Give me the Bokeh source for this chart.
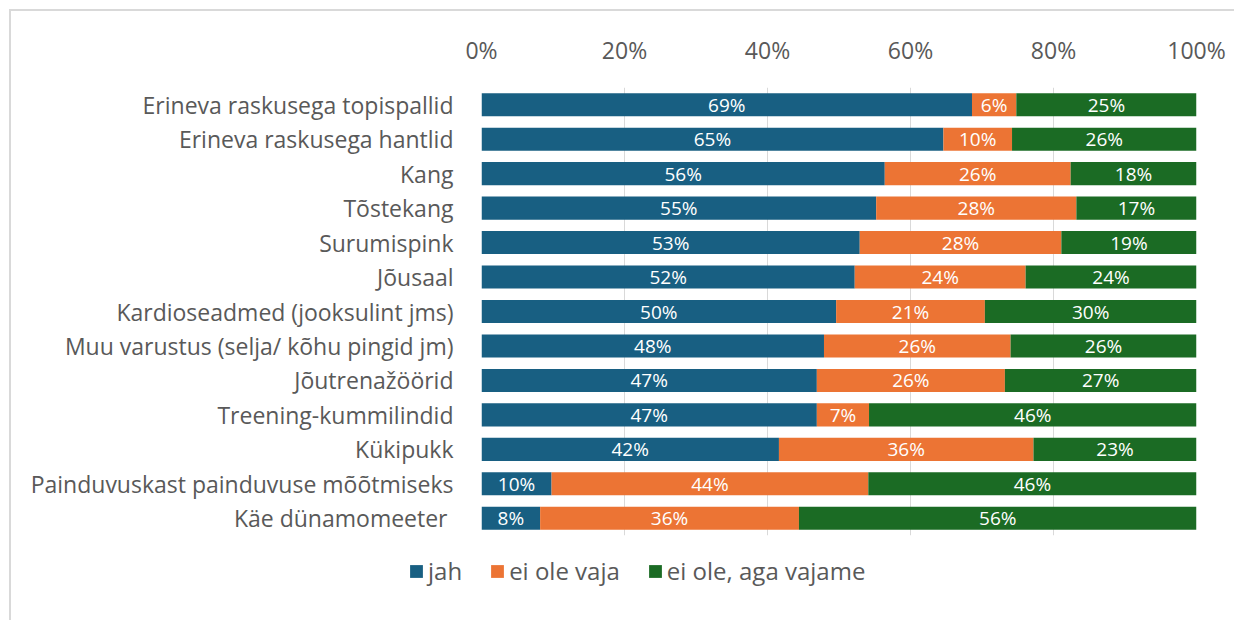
from bokeh.plotting import figure
from bokeh.layouts import column
from bokeh.models import ColumnDataSource, FactorRange, FixedTicker, Legend, LegendItem, Range1d
from bokeh.core.properties import value
from bokeh.embed import file_html
from bokeh.resources import INLINE

categories = [
    "Erineva raskusega topispallid",
    "Erineva raskusega hantlid",
    "Kang",
    "Tõstekang",
    "Surumispink",
    "Jõusaal",
    "Kardioseadmed (jooksulint jms)",
    "Muu varustus (selja/ kõhu pingid jm)",
    "Jõutrenažöörid",
    "Treening-kummilindid",
    "Kükipukk",
    "Painduvuskast painduvuse mõõtmiseks",
    "Käe dünamomeeter ",
]
jah = [68.6, 64.6, 56.4, 55.2, 52.9, 52.2, 49.6, 47.9, 46.9, 46.9, 41.6, 9.8, 8.2]
ei_ole_vaja = [6.2, 9.6, 26.0, 28.0, 28.2, 23.9, 20.8, 26.1, 26.3, 7.3, 35.6, 44.3, 36.2]
ei_ole_aga_vajame = [25.2, 25.8, 17.6, 16.8, 18.9, 23.9, 29.6, 26.0, 26.8, 45.8, 22.8, 45.9, 55.6]
series_names = ["jah", "ei ole vaja", "ei ole, aga vajame"]
tick_values = [0, 20, 40, 60, 80, 100]
tick_labels = ["0%", "20%", "40%", "60%", "80%", "100%"]

colors = ["#185f82", "#ec7434", "#1b6b24"]
text_color = "#595959"
font = "Open Sans"

source = ColumnDataSource(dict(cat=categories, s0=jah, s1=ei_ole_vaja, s2=ei_ole_aga_vajame))

p = figure(
    width=1223, height=539,
    y_range=FactorRange(factors=categories[::-1]),
    x_range=Range1d(0, 100),
    x_axis_location="above",
    output_backend="svg", toolbar_location=None,
    min_border_left=470, min_border_top=76, min_border_right=38, min_border_bottom=15,
)

renderers = p.hbar_stack(["s0", "s1", "s2"], y="cat", height=0.67, color=colors,
                         line_width=0, source=source)

# data labels
series = [jah, ei_ole_vaja, ei_ole_aga_vajame]
starts = [0.0] * len(categories)
for vals in series:
    xs = [s + v / 2 for s, v in zip(starts, vals)]
    labels = [f"{round(v):d}%" for v in vals]
    src = ColumnDataSource(dict(x=xs, y=categories, t=labels))
    p.text(x="x", y="y", text="t", source=src, text_align="center", text_baseline="middle",
           text_color="white", text_font=value(font), text_font_size="19px")
    starts = [s + v for s, v in zip(starts, vals)]

p.outline_line_color = None
p.background_fill_color = "white"
p.border_fill_color = "white"

p.xgrid.grid_line_color = "#d9d9d9"
p.xgrid.grid_line_width = 1
p.ygrid.grid_line_color = None

xa = p.xaxis[0]
xa.ticker = FixedTicker(ticks=tick_values)
xa.major_label_overrides = {v: l for v, l in zip(tick_values, tick_labels)}
xa.axis_line_color = None
xa.major_tick_line_color = None
xa.minor_tick_line_color = None
xa.major_label_text_color = text_color
xa.major_label_text_font = font
xa.major_label_text_font_size = "23px"
xa.major_label_standoff = 16

ya = p.yaxis[0]
ya.axis_line_color = None
ya.major_tick_line_color = None
ya.minor_tick_line_color = None
ya.major_label_text_color = text_color
ya.major_label_text_font = font
ya.major_label_text_font_size = "23px"
ya.major_label_standoff = 22

# legend figure below the chart
lg = figure(
    width=1223, height=70,
    x_range=Range1d(0, 1), y_range=Range1d(0, 1),
    output_backend="svg", toolbar_location=None,
    min_border=0,
)
lg.frame_align = False
lg.axis.visible = False
lg.grid.visible = False
lg.outline_line_color = None
lg.background_fill_color = "white"
lg.border_fill_color = "white"
offscreen = ColumnDataSource(dict(x=[-10], y=[-10]))
legend_renderers = [
    lg.rect(x="x", y="y", width=1, height=1, fill_color=c, line_color=None, source=offscreen)
    for c in colors
]
legend = Legend(
    items=[LegendItem(label=n, renderers=[r]) for n, r in zip(series_names, legend_renderers)],
    orientation="horizontal",
    location=(397, 33),
    glyph_width=16, glyph_height=16,
    label_text_font=font, label_text_font_size="24px", label_text_color=text_color,
    label_standoff=4, spacing=27, padding=0, margin=0,
    border_line_color=None, background_fill_alpha=0,
)
lg.add_layout(legend, "center")

layout = column(p, lg, spacing=0)
layout.styles = {
    "margin-left": "9px", "margin-top": "9px",
    "border-top": "2px solid #d9d9d9", "border-left": "2px solid #d9d9d9",
}

open("out.html", "w").write(file_html(layout, INLINE))
